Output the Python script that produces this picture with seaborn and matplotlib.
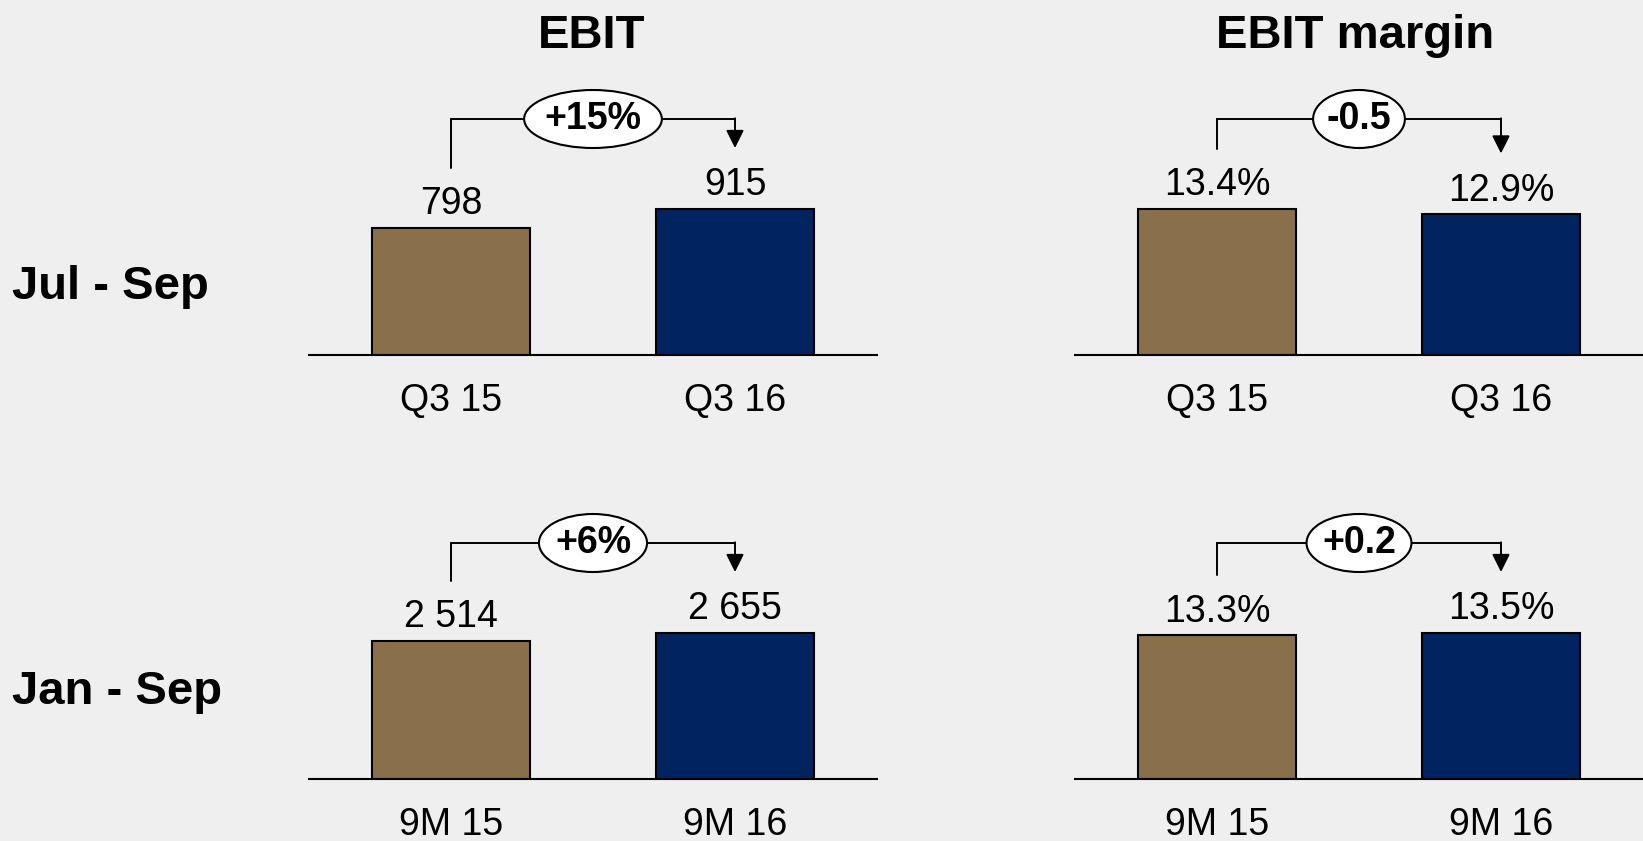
import matplotlib.pyplot as plt
from matplotlib.patches import Ellipse
import seaborn as sns

# data
periods_q = ["Q3 15", "Q3 16"]
periods_9m = ["9M 15", "9M 16"]
ebit_q = [798, 915]
ebit_9m = [2514, 2655]
margin_q = [13.4, 12.9]
margin_9m = [13.3, 13.5]
delta_ebit = ["+15%", "+6%"]
delta_margin = ["-0.5", "+0.2"]
col_titles = ["EBIT", "EBIT margin"]
row_titles = ["Jul - Sep", "Jan - Sep"]

BROWN = "#89704A"
NAVY = "#002460"
BG = "#EFEFEF"

W, H = 1643, 841
AX_W, AX_H = 568, 260   # axes size in px
BAR_PX = 146            # px height of the tallest bar in each panel

sns.set_theme(style="white")
plt.rcParams["font.family"] = ["Liberation Sans", "DejaVu Sans"]
plt.rcParams["text.color"] = "black"
plt.rcParams["xtick.color"] = "black"
plt.rcParams["xtick.labelcolor"] = "black"

fig = plt.figure(figsize=(W / 100, H / 100), dpi=100, facecolor=BG)


def fmt_num(v):
    return f"{v:,}".replace(",", " ")


def fmt_pct(v):
    return f"{v:.1f}%"


def panel(left, base, cats, vals, fmt, delta):
    ax = fig.add_axes([left / W, (H - base) / H, AX_W / W, AX_H / H])
    ax.set_facecolor("none")
    sns.barplot(x=cats, y=vals, hue=cats, palette=[BROWN, NAVY], legend=False,
                width=0.556, edgecolor="black", linewidth=1.5, saturation=1, ax=ax)
    ymax = max(vals) * AX_H / BAR_PX
    py = ymax / AX_H  # data units per pixel
    ax.set_ylim(0, ymax)
    ax.set_xlim(-0.5, 1.5)
    for cont, v in zip(ax.containers, vals):
        ax.bar_label(cont, labels=[fmt(v)], padding=4, fontsize=27, color="black")

    # bracket with arrow
    start = vals[0] + 60 * py
    tip = vals[1] + 61 * py
    horiz = max(vals) + 90 * py
    ax.plot([0, 0, 1], [start, horiz, horiz], color="black", lw=1.4,
            clip_on=False, solid_joinstyle="miter")
    ax.annotate("", xy=(1, tip), xytext=(1, horiz + 0.7 * py),
                arrowprops=dict(arrowstyle="-|>", color="black", lw=1.4,
                                mutation_scale=27, shrinkA=0, shrinkB=0),
                annotation_clip=False)
    txt = ax.text(0.5, horiz, delta, ha="center", va="center", fontsize=27,
                  fontweight="bold", color="black", zorder=5)
    tw = txt.get_window_extent(fig.canvas.get_renderer()).width
    ax.add_patch(Ellipse((0.5, horiz), width=tw * 1.42 / (AX_W / 2),
                         height=58 * py, facecolor="white", edgecolor="black",
                         lw=1.5, clip_on=False, zorder=4))

    ax.set_yticks([])
    ax.tick_params(axis="x", length=0, pad=20.5, labelsize=27, colors="black")
    ax.set_xlabel("")
    for s in ["left", "right", "top"]:
        ax.spines[s].set_visible(False)
    ax.spines["bottom"].set_color("black")
    ax.spines["bottom"].set_linewidth(1.5)
    return ax


panel(309, 355, periods_q, ebit_q, fmt_num, delta_ebit[0])
panel(1075, 355, periods_q, margin_q, fmt_pct, delta_margin[0])
panel(309, 779, periods_9m, ebit_9m, fmt_num, delta_ebit[1])
panel(1075, 779, periods_9m, margin_9m, fmt_pct, delta_margin[1])

for x, t in zip([592, 1355], col_titles):
    fig.text(x / W, 1 - 48 / H, t, ha="center", va="baseline", fontsize=34,
             fontweight="bold", color="black")
for y, t in zip([299, 704], row_titles):
    fig.text(12 / W, 1 - y / H, t, ha="left", va="baseline", fontsize=34,
             fontweight="bold", color="black")

fig.savefig("out.png", dpi=100, facecolor=BG)
